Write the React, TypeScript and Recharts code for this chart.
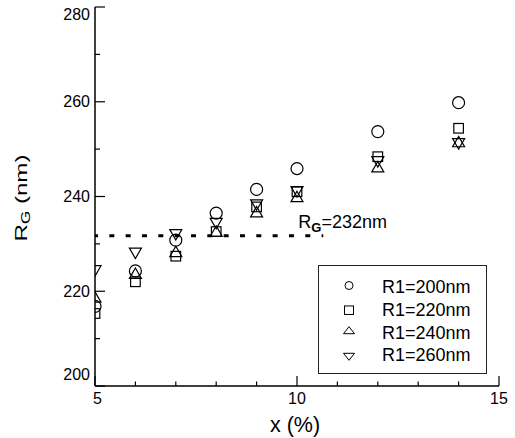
import React from 'react';
import { ScatterChart, Scatter, XAxis, YAxis, ReferenceLine, Legend } from 'recharts';

const xValues = [5, 6, 7, 8, 9, 10, 12, 14];
const rg200 = [216.8, 224.3, 230.8, 236.5, 241.5, 245.9, 253.7, 259.8];
const rg220 = [215.3, 222.0, 227.4, 232.6, 237.8, 241.0, 248.4, 254.4];
const rg240 = [218.8, 223.8, 228.4, 232.7, 236.8, 240.0, 246.3, 251.6];
const rg260 = [224.3, 228.0, 231.9, 234.3, 238.2, 241.0, 247.3, 251.1];
const seriesNames = ['R1=200nm', 'R1=220nm', 'R1=240nm', 'R1=260nm'];
const seriesKinds = ['circle', 'square', 'up', 'down'];
const xTicks = [5, 6, 7, 8, 9, 10, 11, 12, 13, 14, 15];
const yTicks = [200, 210, 220, 230, 240, 250, 260, 270, 280];
const refValue = 231.7;
const refXStart = 5;
const refXEnd = 10.65;
const titleText = 'Core-Shell Type Sphere';
const xTitle = 'x (%)';

const FONT = '"Liberation Sans", Arial, Helvetica, sans-serif';
const INK = '#000';

const toPoints = (ys: number[]) => xValues.map((x, i) => ({ x, y: ys[i] }));
const seriesData = [rg200, rg220, rg240, rg260].map(toPoints);

function Marker({ kind, cx, cy, legend }: { kind: string; cx: number; cy: number; legend?: boolean }) {
  const sw = legend ? 1 : 1.2;
  const common = { fill: 'none', stroke: INK, strokeWidth: sw };
  if (kind === 'circle') {
    return <circle cx={cx} cy={cy} r={legend ? 4 : 6} {...common} />;
  }
  if (kind === 'square') {
    const w = legend ? 9 : 9.6;
    const h = legend ? 8.5 : 9.6;
    return <rect x={cx - w / 2} y={cy - h / 2} width={w} height={h} {...common} />;
  }
  const hw = legend ? 5.5 : 6;
  const hh = legend ? 3.5 : 5.2;
  if (kind === 'up') {
    return <path d={`M${cx},${cy - hh}L${cx + hw},${cy + hh}L${cx - hw},${cy + hh}Z`} {...common} />;
  }
  return <path d={`M${cx},${cy + hh}L${cx + hw},${cy - hh}L${cx - hw},${cy - hh}Z`} {...common} />;
}

const BottomTick = (p: any) => {
  const { x, y, payload } = p;
  const v = payload.value;
  const major = v % 5 === 0;
  const lx = v === 5 ? x + 2.5 : x;
  return (
    <g>
      <line x1={x} x2={x} y1={y} y2={y - (major ? 10 : 4.5)} stroke={INK} strokeWidth={1.2} />
      {major && (
        <text x={lx} y={y + 17.5} textAnchor="middle" fontSize={16} fontFamily={FONT} fill={INK}>
          {v}
        </text>
      )}
    </g>
  );
};

const TopTick = (p: any) => {
  const { x, y, payload } = p;
  const major = payload.value % 5 === 0;
  return <line x1={x} x2={x} y1={y} y2={y + (major ? 10 : 5)} stroke={INK} strokeWidth={1.2} />;
};

const LeftTick = (p: any) => {
  const { x, y, payload } = p;
  const v = payload.value;
  const major = v % 20 === 0;
  let ly = y;
  if (v === 280) ly += 7.5;
  if (v === 200) ly -= 12;
  return (
    <g>
      <line x1={x} x2={x + (major ? 10 : 5)} y1={y} y2={y} stroke={INK} strokeWidth={1.2} />
      {major && (
        <text x={x - 5} y={ly + 5.7} textAnchor="end" fontSize={16} fontFamily={FONT} fill={INK}>
          {v}
        </text>
      )}
    </g>
  );
};

const RightTick = (p: any) => {
  const { x, y, payload } = p;
  const major = payload.value % 20 === 0;
  return <line x1={x} x2={x - (major ? 10 : 4.5)} y1={y} y2={y} stroke={INK} strokeWidth={1.2} />;
};

const renderLegend = (props: any) => {
  const payload = props && props.payload && props.payload.length ? props.payload : seriesNames.map((n) => ({ value: n }));
  const markerOffset: Record<string, number> = { circle: -7.8, square: -5.7, up: -8.3, down: -4.3 };
  return (
    <svg width={169} height={109} style={{ display: 'block' }}>
      <rect x={0.5} y={0.5} width={168} height={108} fill="#fff" stroke="#222" strokeWidth={1} />
      {payload.map((entry: any, i: number) => {
        const name = entry.value;
        const idx = seriesNames.indexOf(name);
        const kind = seriesKinds[idx >= 0 ? idx : i];
        const base = 28.3 + 22.6 * i;
        return (
          <g key={name}>
            <Marker kind={kind} cx={31} cy={base + markerOffset[kind]} legend />
            <text x={64} y={base} fontSize={18} fontFamily={FONT} fill={INK}>
              {name}
            </text>
          </g>
        );
      })}
    </svg>
  );
};

export default function App() {
  return (
    <div style={{ position: 'absolute', left: 0, top: 0, background: '#fff' }}>
      <ScatterChart width={515} height={438} margin={{ top: 7, right: 16, bottom: 22, left: 35 }}>
        <XAxis
          xAxisId="b"
          type="number"
          dataKey="x"
          domain={[5, 15]}
          ticks={xTicks}
          interval={0}
          allowDataOverflow
          height={30}
          tickSize={0}
          tickMargin={0}
          tickLine={false}
          axisLine={{ stroke: INK, strokeWidth: 1.5 }}
          tick={<BottomTick />}
          label={{
            content: () => (
              <text x={295} y={432} textAnchor="middle" fontSize={21.5} fontFamily={FONT} fill={INK}>
                {xTitle}
              </text>
            ),
          }}
        />
        <XAxis
          xAxisId="t"
          orientation="top"
          type="number"
          dataKey="x"
          domain={[5, 15]}
          ticks={xTicks}
          interval={0}
          allowDataOverflow
          height={0}
          tickSize={0}
          tickMargin={0}
          tickLine={false}
          axisLine={{ stroke: INK, strokeWidth: 1.5 }}
          tick={<TopTick />}
          label={{
            content: () => (
              <text x={115} y={36} fontSize={18.5} fontFamily={FONT} fill={INK}>
                {titleText}
              </text>
            ),
          }}
        />
        <YAxis
          yAxisId="l"
          type="number"
          dataKey="y"
          domain={[200, 280]}
          ticks={yTicks}
          interval={0}
          allowDataOverflow
          width={60}
          tickSize={0}
          tickMargin={0}
          tickLine={false}
          axisLine={{ stroke: INK, strokeWidth: 1.5 }}
          tick={<LeftTick />}
          label={{
            content: () => (
              <text
                transform="translate(27,198) rotate(-90) scale(1.42,1)"
                textAnchor="middle"
                fontFamily={FONT}
                fill={INK}
              >
                <tspan fontSize={17}>R</tspan>
                <tspan fontSize={12} dy={3}>G</tspan>
                <tspan fontSize={17} dy={-3}>{' (nm)'}</tspan>
              </text>
            ),
          }}
        />
        <YAxis
          yAxisId="r"
          orientation="right"
          type="number"
          dataKey="y"
          domain={[200, 280]}
          ticks={yTicks}
          interval={0}
          allowDataOverflow
          width={0}
          tickSize={0}
          tickMargin={0}
          tickLine={false}
          axisLine={{ stroke: INK, strokeWidth: 1.5 }}
          tick={<RightTick />}
        />
        <ReferenceLine
          xAxisId="b"
          yAxisId="l"
          segment={[
            { x: refXStart, y: refValue },
            { x: refXEnd, y: refValue },
          ]}
          stroke={INK}
          strokeWidth={3}
          strokeDasharray="5 11.33"
          strokeDashoffset={2}
          ifOverflow="visible"
          label={{
            content: (lp: any) => {
              const vb = lp && lp.viewBox ? lp.viewBox : { x: 95, y: 236, width: 228 };
              const tx = vb.x + (vb.width || 0) - 25;
              const ty = vb.y - 8;
              return (
                <text x={tx} y={ty} fontFamily={FONT} fill={INK}>
                  <tspan fontSize={18}>R</tspan>
                  <tspan fontSize={13} fontWeight="bold" dy={4}>G</tspan>
                  <tspan fontSize={18} dy={-4}>=232nm</tspan>
                </text>
              );
            },
          }}
        />
        {seriesData.map((data, i) => (
          <Scatter
            key={seriesNames[i]}
            name={seriesNames[i]}
            xAxisId="b"
            yAxisId="l"
            data={data}
            isAnimationActive={false}
            fill="none"
            stroke={INK}
            shape={(sp: any) => <Marker kind={seriesKinds[i]} cx={sp.cx} cy={sp.cy} />}
          />
        ))}
        <Legend
          layout="horizontal"
          verticalAlign="middle"
          align="center"
          content={renderLegend}
          wrapperStyle={{ left: 318, top: 265, width: 169, height: 109 }}
        />
      </ScatterChart>
    </div>
  );
}
